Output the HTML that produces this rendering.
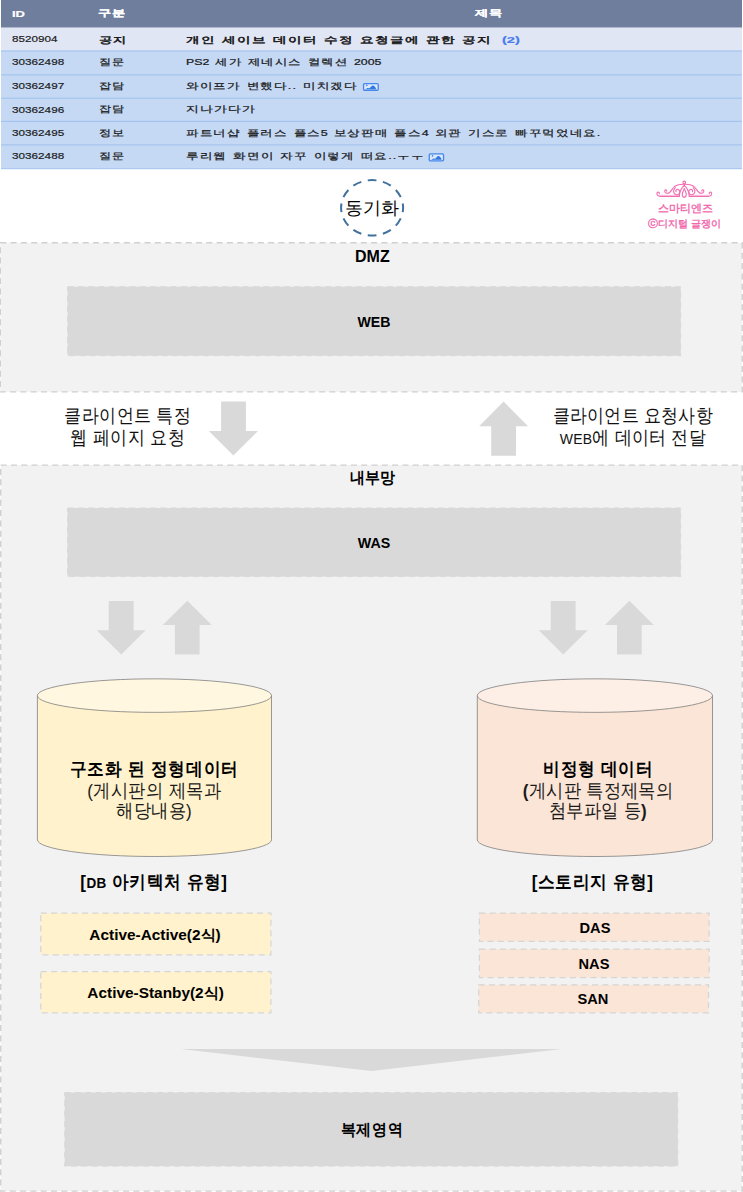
<!DOCTYPE html>
<html lang="ko">
<head>
<meta charset="utf-8">
<title>동기화 아키텍처</title>
<style>
html,body{margin:0;padding:0;background:#fff;}
body{width:743px;height:1192px;position:relative;overflow:hidden;font-family:"Liberation Sans",sans-serif;color:#000;}
#bg{position:absolute;left:0;top:0;width:743px;height:1192px;}
.t{position:absolute;white-space:nowrap;line-height:1;}
.c{text-align:center;transform:translateX(-50%) scale(var(--sx,1),var(--sy,1));transform-origin:50% 50%;}
.b{font-weight:bold;}
/* table text */
.x{position:absolute;white-space:nowrap;line-height:14px;height:14px;color:#1c1c1c;transform-origin:0 50%;}
.tb{font-size:10px;-webkit-text-stroke:0.2px currentColor;}
.tk{font-size:11px;letter-spacing:1px;word-spacing:1.2px;-webkit-text-stroke:0.3px currentColor;}
.tk .l{font-size:11px;letter-spacing:0;}
.th{color:#fff;font-weight:bold;}
.b{font-weight:bold;}
.tk.b{font-weight:normal;-webkit-text-stroke:0.6px currentColor;}
.lg{color:#f164ab;-webkit-text-stroke:0.35px #f164ab;}
</style>
</head>
<body>
<svg id="bg" width="743" height="1192" viewBox="0 0 743 1192">
  <!-- table -->
  <rect x="1" y="0" width="741" height="27.8" fill="#707e9d"/>
  <rect x="1" y="27.6" width="741" height="22.8" fill="#e1e6f5"/>
  <rect x="1" y="50.3" width="741" height="118.9" fill="#a4c3ed"/>
  <rect x="1" y="51.6" width="741" height="22.7" fill="#c5d9f5"/>
  <rect x="1" y="75.5" width="741" height="22.1" fill="#c5d9f5"/>
  <rect x="1" y="98.8" width="741" height="22.0" fill="#c5d9f5"/>
  <rect x="1" y="122.0" width="741" height="22.3" fill="#c5d9f5"/>
  <rect x="1" y="145.5" width="741" height="22.7" fill="#c5d9f5"/>

  <!-- image icons -->
  <g transform="translate(362.9,82.9)">
    <rect x="0.65" y="0.65" width="14.7" height="6.7" rx="1.1" fill="#dde8fb" stroke="#4787ea" stroke-width="1.3"/>
    <path d="M2.6,6.3 L4.6,5.1 L6.6,5.4 L9.2,2.9 C10.4,2.2 12.4,3.2 13.2,6.3 Z" fill="#2f78e2"/>
    <circle cx="3.9" cy="2.5" r="0.8" fill="#3f82e6"/>
  </g>
  <g transform="translate(428.6,153.3)">
    <rect x="0.65" y="0.65" width="14.3" height="6.9" rx="1.1" fill="#dde8fb" stroke="#4787ea" stroke-width="1.3"/>
    <path d="M2.6,6.5 L4.6,5.2 L6.6,5.5 L9.0,3.0 C10.2,2.3 12.2,3.3 13.0,6.5 Z" fill="#2f78e2"/>
    <circle cx="3.9" cy="2.6" r="0.8" fill="#3f82e6"/>
  </g>

  <!-- tiara logo -->
  <g transform="translate(654,179.3) scale(0.04845)" fill="none" stroke="#f36db1" stroke-width="23" stroke-linecap="round" stroke-linejoin="round">
    <g>
      <path d="M110,300 C120,265 75,250 62,285 C50,325 85,352 130,352 L522,352"/>
      <path d="M125,330 L515,330" stroke-width="14" opacity="0.55"/>
      <path d="M262,245 C270,215 228,205 222,238 C216,275 265,300 310,280 C360,258 370,190 430,145 C480,110 550,100 625,102"/>
      <path d="M455,255 C440,225 475,195 510,215 C545,240 535,300 495,315 C450,330 400,295 405,245 C408,215 420,190 440,170"/>
      <path d="M625,135 C578,160 522,250 522,352"/>
      <path d="M625,192 C608,240 582,275 584,312 C586,348 610,368 625,368"/>
    </g>
    <g transform="translate(1250,0) scale(-1,1)">
      <path d="M110,300 C120,265 75,250 62,285 C50,325 85,352 130,352 L522,352"/>
      <path d="M125,330 L515,330" stroke-width="14" opacity="0.55"/>
      <path d="M262,245 C270,215 228,205 222,238 C216,275 265,300 310,280 C360,258 370,190 430,145 C480,110 550,100 625,102"/>
      <path d="M455,255 C440,225 475,195 510,215 C545,240 535,300 495,315 C450,330 400,295 405,245 C408,215 420,190 440,170"/>
      <path d="M625,135 C578,160 522,250 522,352"/>
      <path d="M625,192 C608,240 582,275 584,312 C586,348 610,368 625,368"/>
    </g>
    <circle cx="625" cy="65" r="27"/>
    <circle cx="625" cy="125" r="16" fill="#f25aa8" stroke="none"/>
  </g>

  <!-- sync circle -->
  <ellipse cx="372.1" cy="207.8" rx="31" ry="27.7" fill="none" stroke="#41719c" stroke-width="2" pathLength="12" stroke-dasharray="0.57 0.43" stroke-dashoffset="0.285"/>

  <!-- DMZ -->
  <rect x="0.3" y="242.8" width="741.9" height="149.1" fill="#f2f2f2" stroke="#d0d0d0" stroke-width="1.4" stroke-dasharray="6 4.3"/>
  <rect x="67.6" y="286.7" width="613.1" height="69" fill="#d9d9d9" stroke="#d9d9d9" stroke-width="1" stroke-dasharray="6 4.3"/>

  <!-- arrows between -->
  <polygon points="221.1,401.5 245.9,401.5 245.9,431.1 258,431.1 233.4,455.6 208.8,431.1 221.1,431.1" fill="#d9d9d9"/>
  <polygon points="503.6,401.6 528.1,426.2 516,426.2 516,455.7 491.2,455.7 491.2,426.2 479.1,426.2" fill="#d9d9d9"/>

  <!-- inner network -->
  <rect x="0.7" y="465.1" width="741.5" height="726" fill="#f2f2f2" stroke="#d0d0d0" stroke-width="1.4" stroke-dasharray="6 4.3"/>
  <rect x="67.5" y="508" width="613.2" height="68.6" fill="#d9d9d9" stroke="#d9d9d9" stroke-width="1" stroke-dasharray="6 4.3"/>

  <!-- arrows WAS <-> data -->
  <polygon points="108.7,601.0 133.6,601.0 133.6,630.3 145.7,630.3 121.2,654.4 96.7,630.3 108.7,630.3" fill="#d9d9d9"/>
  <polygon points="187.3,600.8 211.7,625.0 199.6,625.0 199.6,654.6 174.9,654.6 174.9,625.0 162.8,625.0" fill="#d9d9d9"/>
  <polygon points="550.7,601.0 575.6,601.0 575.6,630.3 587.7,630.3 563.2,654.4 538.7,630.3 550.7,630.3" fill="#d9d9d9"/>
  <polygon points="629.4,600.8 653.8,625.0 641.7,625.0 641.7,654.6 617.0,654.6 617.0,625.0 604.9,625.0" fill="#d9d9d9"/>

  <!-- left cylinder -->
  <path d="M37.4,695.6 L37.4,839.75 A117.05,16.75 0 0 0 271.5,839.75 L271.5,695.6 Z" fill="#fff2cc" stroke="#7f7f7f" stroke-width="0.8"/>
  <ellipse cx="154.45" cy="695.6" rx="117.05" ry="16.75" fill="#fff7e0" stroke="#7f7f7f" stroke-width="0.8"/>

  <!-- right cylinder -->
  <path d="M477.3,695.6 L477.3,839.75 A117.6,16.75 0 0 0 712.5,839.75 L712.5,695.6 Z" fill="#fbe5d6" stroke="#7f7f7f" stroke-width="0.8"/>
  <ellipse cx="594.9" cy="695.6" rx="117.6" ry="16.75" fill="#fdefe6" stroke="#7f7f7f" stroke-width="0.8"/>

  <!-- type boxes -->
  <rect x="40.8" y="913.05" width="230.1" height="41.75" fill="#fff2cc" stroke="#d5d5d5" stroke-width="1.25" stroke-dasharray="6 4.3"/>
  <rect x="40.8" y="971.7" width="230.1" height="41.1" fill="#fff2cc" stroke="#d5d5d5" stroke-width="1.25" stroke-dasharray="6 4.3"/>
  <rect x="479.4" y="913.05" width="229.7" height="28.4" fill="#fbe5d6" stroke="#d5d5d5" stroke-width="1.25" stroke-dasharray="6 4.3"/>
  <rect x="479.4" y="949" width="229.7" height="28.5" fill="#fbe5d6" stroke="#d5d5d5" stroke-width="1.25" stroke-dasharray="6 4.3"/>
  <rect x="478.7" y="984.9" width="229.8" height="27.9" fill="#fbe5d6" stroke="#d5d5d5" stroke-width="1.25" stroke-dasharray="6 4.3"/>

  <!-- wide triangle -->
  <polygon points="181,1049 562,1049 371.5,1071" fill="#d9d9d9"/>

  <!-- replica -->
  <rect x="64.7" y="1092.5" width="613.1" height="73.6" fill="#d9d9d9" stroke="#d9d9d9" stroke-width="1" stroke-dasharray="6 4.3"/>
</svg>

<!-- table text -->
<div class="x tb th" style="left:12.0px;top:7.4px;transform:scale(1.300,0.92)">ID</div>
<div class="x tk th" style="left:98.3px;top:5.9px;transform:scale(1.200,0.82)">구분</div>
<div class="x tk th" style="left:475.1px;top:5.6px;transform:scale(1.200,0.82)">제목</div>
<div class="x tb" style="left:12.2px;top:32.2px;transform:scale(1.166,0.92)">8520904</div>
<div class="x tk b" style="left:98.9px;top:32.5px;transform:scale(1.200,0.82)">공지</div>
<div class="x tk b" style="left:186.2px;top:32.5px;transform:scale(1.235,0.82)">개인 세이브 데이터 수정 요청글에 관한 공지</div>
<div class="x tb b" style="left:502.2px;top:32.6px;transform:scale(1.463,0.92)"><span style="color:#4a7cec">(2)</span></div>
<div class="x tb" style="left:12.2px;top:55.4px;transform:scale(1.173,0.92)">30362498</div>
<div class="x tk" style="left:98.9px;top:55.2px;transform:scale(1.100,0.82)">질문</div>
<div class="x tk" style="left:186.2px;top:55.2px;transform:scale(1.121,0.82)"><span class="l">PS2</span> 세가 제네시스 컬렉션 <span class="l">2005</span></div>
<div class="x tb" style="left:12.2px;top:79.0px;transform:scale(1.173,0.92)">30362497</div>
<div class="x tk" style="left:98.9px;top:78.8px;transform:scale(1.100,0.82)">잡담</div>
<div class="x tk" style="left:186.3px;top:78.8px;transform:scale(1.141,0.82)">와이프가 변했다.. 미치겠다</div>
<div class="x tb" style="left:12.2px;top:102.5px;transform:scale(1.173,0.92)">30362496</div>
<div class="x tk" style="left:98.9px;top:102.3px;transform:scale(1.100,0.82)">잡담</div>
<div class="x tk" style="left:186.2px;top:102.3px;transform:scale(1.169,0.82)">지나가다가</div>
<div class="x tb" style="left:12.2px;top:125.9px;transform:scale(1.173,0.92)">30362495</div>
<div class="x tk" style="left:98.9px;top:125.7px;transform:scale(1.100,0.82)">정보</div>
<div class="x tk" style="left:186.3px;top:125.7px;transform:scale(1.138,0.82)">파트너샵 플러스 플스<span class="l">5</span> 보상판매 플스<span class="l">4</span> 외관 기스로 빠꾸먹었네요.</div>
<div class="x tb" style="left:12.2px;top:149.4px;transform:scale(1.173,0.92)">30362488</div>
<div class="x tk" style="left:98.9px;top:149.2px;transform:scale(1.100,0.82)">질문</div>
<div class="x tk" style="left:186.3px;top:149.2px;transform:scale(1.142,0.82)">루리웹 화면이 자꾸 이렇게 떠요..ㅜㅜ</div>

<!-- sync -->
<div class="t c" style="left:371.5px;top:199.5px;font-size:17.5px;">동기화</div>

<!-- logo text -->
<div class="t c lg" style="left:685px;top:203px;font-size:11.2px;">스마티엔즈</div>
<div class="t c lg" style="left:684.5px;top:219.3px;font-size:9.8px;">ⓒ디지털 글쟁이</div>

<!-- DMZ -->
<div class="t c b" id="l_dmz" style="left:372.4px;top:249px;font-size:16px;">DMZ</div>
<div class="t c b" id="l_web" style="left:374px;top:313.7px;font-size:15px;--sx:.94;">WEB</div>

<div class="t c" id="l_cl1" style="left:127.8px;top:407.6px;font-size:17px;letter-spacing:.4px;line-height:19.2px;--sy:1.12;color:#111;">클라이언트 특정<br>웹 페이지 요청</div>
<div class="t c" id="l_cl2" style="left:632.8px;top:407.8px;font-size:17px;letter-spacing:.25px;line-height:19.2px;--sy:1.12;color:#111;">클라이언트 요청사항<br><span style="font-size:14px;display:inline-block;transform:scaleY(.9);transform-origin:50% 78%;">WEB</span>에 데이터 전달</div>

<div class="t c b" id="l_in" style="left:372.4px;top:469.6px;font-size:15px;--sy:1.07;">내부망</div>
<div class="t c b" id="l_was" style="left:374.1px;top:534.7px;font-size:15px;--sx:.95;">WAS</div>

<!-- cylinders text -->
<div class="t c b" id="l_c1a" style="left:154.2px;top:761px;font-size:17px;letter-spacing:.6px;--sy:1.08;">구조화 된 정형데이터</div>
<div class="t c" id="l_c1b" style="left:154.2px;top:781.6px;font-size:17px;letter-spacing:.5px;line-height:19.1px;--sy:1.1;color:#1a1a1a;">(게시판의 제목과<br>해당내용)</div>
<div class="t c b" id="l_c2a" style="left:598.4px;top:761px;font-size:17px;letter-spacing:.45px;--sy:1.08;">비정형 데이터</div>
<div class="t c" id="l_c2b" style="left:598px;top:781.6px;font-size:17px;letter-spacing:.4px;line-height:19.1px;--sy:1.1;color:#1a1a1a;"><b>(</b>게시판 특정제목의<br>첨부파일 등<b>)</b></div>

<div class="t c b" id="l_t1" style="left:153.9px;top:874px;font-size:17px;letter-spacing:.4px;--sy:1.08;">[<span style="font-size:13.5px">DB</span> 아키텍처 유형]</div>
<div class="t c b" id="l_t2" style="left:592.6px;top:874px;font-size:17px;letter-spacing:.4px;--sy:1.08;">[스토리지 유형]</div>

<div class="t c b" id="l_a1" style="left:155px;top:926.6px;font-size:15.4px;">Active-Active(2식)</div>
<div class="t c b" id="l_a2" style="left:155.6px;top:985px;font-size:15.4px;">Active-Stanby(2식)</div>
<div class="t c b" id="l_das" style="left:594.8px;top:920.2px;font-size:15.4px;--sx:.95;">DAS</div>
<div class="t c b" id="l_nas" style="left:594.4px;top:956.4px;font-size:15.4px;--sx:.95;">NAS</div>
<div class="t c b" id="l_san" style="left:593.2px;top:991.3px;font-size:15.4px;--sx:.95;">SAN</div>

<div class="t c b" id="l_rep" style="left:372px;top:1122px;font-size:15px;letter-spacing:.6px;--sy:1.07;">복제영역</div>
</body>
</html>
